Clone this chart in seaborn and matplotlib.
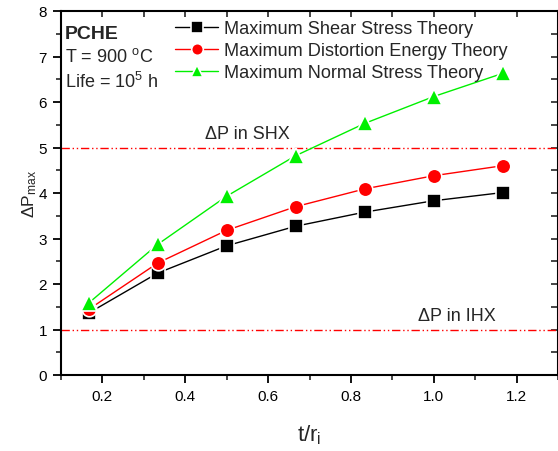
import numpy as np
import pandas as pd
import matplotlib
matplotlib.use("Agg")
import matplotlib.pyplot as plt
from matplotlib.ticker import MultipleLocator
import seaborn as sns

# ---- data ----
t_ri = [1/6, 2/6, 3/6, 4/6, 5/6, 6/6, 7/6]
shear = [1.36, 2.24, 2.84, 3.27, 3.58, 3.83, 4.01]
distortion = [1.44, 2.46, 3.18, 3.70, 4.09, 4.38, 4.60]
normal = [1.58, 2.87, 3.93, 4.82, 5.53, 6.12, 6.63]
series_names = ["Maximum Shear Stress Theory",
                "Maximum Distortion Energy Theory",
                "Maximum Normal Stress Theory"]
dp_shx = 5
dp_ihx = 1

sns.set_theme(style="ticks")
plt.rcParams['font.family'] = ['Liberation Sans', 'DejaVu Sans']
plt.rcParams['mathtext.fontset'] = 'custom'
plt.rcParams['mathtext.rm'] = 'Liberation Sans'
plt.rcParams['mathtext.it'] = 'Liberation Sans:italic'
plt.rcParams['mathtext.default'] = 'regular'

df = pd.DataFrame({
    "x": t_ri * 3,
    "y": shear + distortion + normal,
    "theory": [series_names[0]] * 7 + [series_names[1]] * 7 + [series_names[2]] * 7,
})

fig = plt.figure(figsize=(5.58, 4.52), dpi=100)
ax = fig.add_axes([61/558, 1 - 376/452, 497/558, 364/452])

palette = {series_names[0]: "black", series_names[1]: "#ff0000", series_names[2]: "#00f000"}
markers = {series_names[0]: "s", series_names[1]: "o", series_names[2]: "^"}
sizes_ms = {series_names[0]: 10, series_names[1]: 10.5, series_names[2]: 11.5}

for name in series_names:
    sub = df[df.theory == name]
    sns.lineplot(data=sub, x="x", y="y", ax=ax, color=palette[name],
                 marker=markers[name], markersize=sizes_ms[name],
                 markeredgecolor="white", markeredgewidth=1.2,
                 linewidth=1.0, label=name, zorder=3)

ax.axhline(dp_shx, color="#ff0000", linewidth=1.0, linestyle=(0, (6, 2, 1, 2, 1, 2)), zorder=2)
ax.axhline(dp_ihx, color="#ff0000", linewidth=1.0, linestyle=(0, (6, 2, 1, 2, 1, 2)), zorder=2)

ax.set_xlim(0.1, 1.3)
ax.set_ylim(0, 8)
ax.xaxis.set_major_locator(MultipleLocator(0.2))
ax.xaxis.set_minor_locator(MultipleLocator(0.1))
ax.yaxis.set_major_locator(MultipleLocator(1))
ax.yaxis.set_minor_locator(MultipleLocator(0.5))
ax.set_xticks([0.2, 0.4, 0.6, 0.8, 1.0, 1.2])
ax.set_xticklabels(["0.2", "0.4", "0.6", "0.8", "1.0", "1.2"])

for s in ax.spines.values():
    s.set_linewidth(1.5)
    s.set_color("black")
    s.set_visible(True)

ax.tick_params(axis="both", which="major", direction="out", length=6, width=1.3,
               labelsize=11, colors="black", pad=4)
ax.tick_params(axis="both", which="minor", direction="out", length=3.5, width=1.2)
# top/right inward ticks
ax2 = ax.secondary_xaxis('top')
ax2.set_xticks(np.arange(0.1, 1.31, 0.1))
ax2.tick_params(direction="in", length=4, width=1.2, labeltop=False)
ax2.set_xticklabels([])
ax3 = ax.secondary_yaxis('right')
ax3.set_yticks(np.arange(0, 8.1, 0.5))
ax3.tick_params(direction="in", length=5, width=1.2)
ax3.set_yticklabels([])
ax.tick_params(top=False, right=False, which="both")

ax.set_xlabel("t/r$_{i}$", fontsize=16, labelpad=14)
ax.set_ylabel("ΔP$_{max}$", fontsize=12.5, labelpad=0)

ax.text(0.008, 0.962, "PCHE", transform=ax.transAxes, fontsize=14,
        fontweight="bold", va="top", ha="left")
ax.text(0.008, 0.9, "T = 900 $^{o}$C", transform=ax.transAxes, fontsize=13,
        va="top", ha="left")
ax.text(0.008, 0.835, "Life = 10$^{5}$ h", transform=ax.transAxes, fontsize=13,
        va="top", ha="left")
ax.text(0.376, dp_shx + 0.12, "ΔP in SHX", fontsize=13, ha="center", va="bottom",
        transform=ax.get_yaxis_transform())
ax.text(1.055, dp_ihx + 0.12, "ΔP in IHX", fontsize=13, ha="center", va="bottom")

leg = ax.legend(loc="upper left", bbox_to_anchor=(0.229, 0.975), frameon=False,
                fontsize=13.1, handlelength=2.4, handletextpad=0.3, labelspacing=0.27,
                borderaxespad=0, borderpad=0, markerscale=0.8)

fig.savefig("out.png", dpi=100)
